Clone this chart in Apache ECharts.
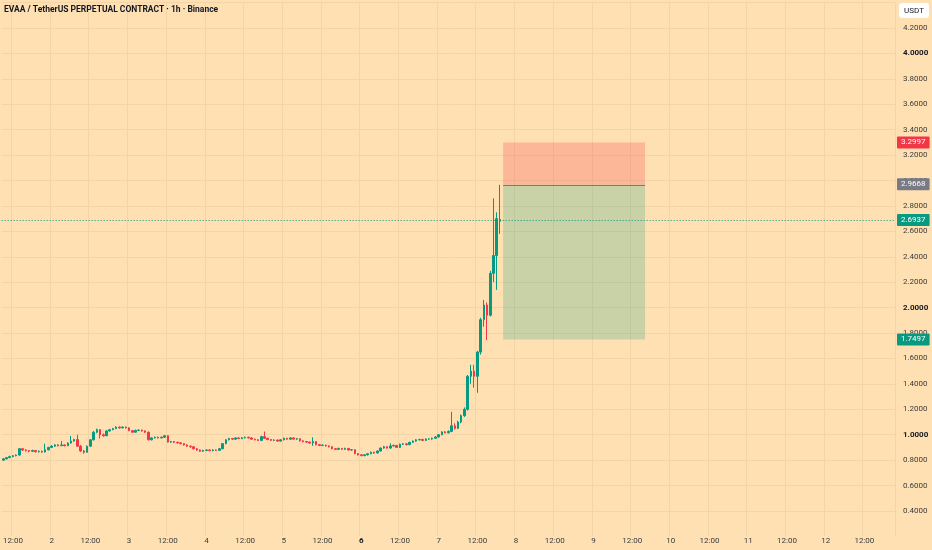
<!DOCTYPE html>
<html>
	<head>
		<meta charset="UTF-8">
		<title>EVAA / TetherUS</title>
		<style>
			html,body{margin:0;padding:0;background:#ffe0b2;}
			#charts{width:932px;height:550px;}
		</style>
	</head>
	<body>
		<div id="charts"></div>
	</body>
	<script src="https://cdn.jsdelivr.net/npm/echarts@6/dist/echarts.min.js"></script>
	<script>
		var mycharts = echarts.init(document.getElementById('charts'));

		// hourly slots from day 1 09:00, axis runs to day 12 evening
		var startHour = 9;
		var slotCount = 277;
		var categories = [];
		for (var k = 0; k < slotCount; k++) {
			var h = startHour + k;
			var d = 1 + Math.floor(h / 24);
			var hh = h % 24;
			categories.push(d + ' ' + (hh < 10 ? '0' + hh : hh) + ':00');
		}

		// candles: [open, close, low, high]
		var candles = [
			[0.800,0.810,0.795,0.815],[0.810,0.820,0.805,0.825],[0.820,0.828,0.815,0.835],[0.828,0.835,0.822,0.840],
			[0.835,0.840,0.830,0.845],[0.840,0.890,0.835,0.895],[0.890,0.880,0.872,0.895],[0.880,0.875,0.868,0.886],
			[0.875,0.870,0.862,0.880],[0.870,0.876,0.865,0.882],[0.876,0.866,0.860,0.880],[0.866,0.870,0.860,0.876],
			[0.870,0.864,0.858,0.874],[0.864,0.882,0.860,0.930],[0.882,0.900,0.876,0.905],[0.900,0.910,0.895,0.918],
			[0.910,0.920,0.905,0.926],[0.920,0.914,0.908,0.925],[0.914,0.920,0.910,0.950],[0.920,0.914,0.908,0.925],
			[0.914,0.935,0.910,0.940],[0.935,0.950,0.930,0.990],[0.950,0.962,0.945,0.968],[0.962,0.910,0.905,1.000],
			[0.910,0.872,0.865,0.920],[0.872,0.862,0.850,0.880],[0.862,0.910,0.858,0.915],[0.910,0.960,0.905,0.965],
			[0.960,1.020,0.955,1.028],[1.020,1.040,1.012,1.048],[1.040,1.000,0.970,1.045],[1.000,0.992,0.985,1.010],
			[0.992,1.030,0.988,1.035],[1.030,1.040,1.024,1.046],[1.040,1.048,1.035,1.054],[1.048,1.060,1.044,1.066],
			[1.060,1.054,1.048,1.064],[1.054,1.060,1.050,1.066],[1.060,1.054,1.048,1.064],[1.054,1.032,1.028,1.058],
			[1.032,1.020,1.014,1.036],[1.020,1.034,1.016,1.040],[1.034,1.036,1.028,1.042],[1.036,1.030,1.024,1.040],
			[1.030,1.020,1.014,1.034],[1.020,0.960,0.955,1.024],[0.960,0.975,0.955,0.980],[0.975,0.980,0.970,0.986],
			[0.980,0.975,0.970,0.985],[0.975,0.980,0.970,0.986],[0.980,0.992,0.975,0.998],[0.992,0.942,0.938,0.996],
			[0.942,0.946,0.936,0.952],[0.946,0.940,0.934,0.950],[0.940,0.936,0.930,0.946],[0.936,0.930,0.924,0.940],
			[0.930,0.920,0.914,0.934],[0.920,0.910,0.905,0.925],[0.910,0.905,0.898,0.915],[0.905,0.890,0.884,0.910],
			[0.890,0.880,0.874,0.895],[0.880,0.870,0.864,0.884],[0.870,0.876,0.864,0.882],[0.876,0.880,0.870,0.886],
			[0.880,0.875,0.870,0.885],[0.875,0.880,0.870,0.886],[0.880,0.877,0.872,0.884],[0.877,0.890,0.872,0.895],
			[0.890,0.930,0.886,0.935],[0.930,0.960,0.925,0.965],[0.960,0.970,0.955,0.976],[0.970,0.965,0.960,0.975],
			[0.965,0.975,0.960,0.980],[0.975,0.970,0.965,0.980],[0.970,0.976,0.965,0.982],[0.976,0.980,0.970,0.985],
			[0.980,0.975,0.970,0.984],[0.975,0.965,0.960,0.980],[0.965,0.960,0.955,0.970],[0.960,0.955,0.950,0.965],
			[0.955,0.985,0.950,0.992],[0.985,0.972,0.966,1.025],[0.972,0.962,0.958,0.976],[0.962,0.956,0.950,0.966],
			[0.956,0.958,0.950,0.964],[0.958,0.950,0.945,0.962],[0.950,0.960,0.946,0.965],[0.960,0.972,0.955,0.978],
			[0.972,0.965,0.960,0.976],[0.965,0.975,0.960,0.980],[0.975,0.966,0.960,0.980],[0.966,0.968,0.960,0.974],
			[0.968,0.952,0.946,0.972],[0.952,0.946,0.940,0.956],[0.946,0.942,0.936,0.950],[0.942,0.935,0.930,0.946],
			[0.935,0.946,0.912,0.980],[0.946,0.922,0.916,0.950],[0.922,0.916,0.910,0.926],[0.916,0.918,0.910,0.924],
			[0.918,0.912,0.906,0.922],[0.912,0.905,0.900,0.916],[0.905,0.890,0.885,0.908],[0.890,0.885,0.880,0.895],
			[0.885,0.892,0.880,0.898],[0.892,0.886,0.880,0.896],[0.886,0.892,0.880,0.898],[0.892,0.880,0.875,0.896],
			[0.880,0.882,0.874,0.888],[0.882,0.852,0.846,0.886],[0.852,0.842,0.836,0.856],[0.842,0.836,0.830,0.846],
			[0.836,0.842,0.830,0.848],[0.842,0.850,0.836,0.855],[0.850,0.862,0.846,0.868],[0.862,0.856,0.850,0.866],
			[0.856,0.872,0.852,0.878],[0.872,0.895,0.868,0.900],[0.895,0.905,0.890,0.912],[0.905,0.895,0.890,0.910],
			[0.895,0.912,0.890,0.932],[0.912,0.916,0.906,0.922],[0.916,0.900,0.895,0.920],[0.900,0.925,0.896,0.930],
			[0.925,0.928,0.920,0.934],[0.928,0.922,0.916,0.934],[0.922,0.940,0.918,0.945],[0.940,0.950,0.935,0.955],
			[0.950,0.960,0.945,0.966],[0.960,0.962,0.955,0.968],[0.962,0.955,0.950,0.968],[0.955,0.966,0.950,0.972],
			[0.966,0.966,0.960,0.972],[0.966,0.972,0.960,0.978],[0.972,0.982,0.966,0.990],[0.982,1.000,0.978,1.006],
			[1.000,1.022,0.995,1.028],[1.022,1.015,1.010,1.030],[1.015,1.026,1.010,1.034],[1.026,1.070,1.020,1.180],
			[1.070,1.050,1.040,1.090],[1.050,1.100,1.045,1.110],[1.100,1.150,1.090,1.160],[1.150,1.200,1.140,1.215],
			[1.200,1.460,1.190,1.470],[1.460,1.500,1.400,1.550],[1.500,1.460,1.370,1.550],[1.460,1.650,1.330,1.660],
			[1.650,1.905,1.630,1.920],[1.905,2.020,1.850,2.060],[2.020,1.940,1.745,2.040],[1.940,2.270,1.930,2.290],
			[2.270,2.410,2.200,2.860],[2.410,2.700,2.140,2.750],[2.680,2.6937,2.580,2.9668]
		];

		// long position tool
		var stopPrice = 3.2997;
		var entryPrice = 2.9668;
		var targetPrice = 1.7497;
		var lastPrice = 2.6937;
		var boxStart = 155; // slot index
		var boxEnd = 199;

		var yTicks = {min: 0.2, max: 4.4, interval: 0.2};
		var boldTicks = [1, 2, 4];

		var bg = '#ffe0b2';
		var gridColor = '#f3d4a6';
		var upColor = '#089981';
		var downColor = '#f23645';

		// price tag on the right scale
		function priceTag(color, price) {
			return {
				show: true,
				position: 'end',
				distance: 2,
				formatter: price.toFixed(4),
				backgroundColor: color,
				color: '#fff',
				fontSize: 8,
				fontFamily: 'Roboto',
				padding: [2, 4, 2, 4],
				borderRadius: 1
			};
		}
		function hiddenLine() {
			return {color: 'rgba(255,224,178,0)', width: 1, type: 'solid'};
		}

		option = {
			backgroundColor: bg,
			animation: false,
			title: {
				text: 'EVAA / TetherUS PERPETUAL CONTRACT · 1h · Binance',
				left: 4,
				top: 5,
				padding: 0,
				textStyle: {fontSize: 8.5, fontWeight: 'bold', color: '#131722', fontFamily: 'Roboto'}
			},
			grid: {left: 0, right: 37, top: 2.6, bottom: 13.6},
			xAxis: {
				type: 'category',
				data: categories,
				boundaryGap: true,
				axisLine: {show: true, lineStyle: {color: bg, width: 2}},
				axisTick: {show: false},
				axisLabel: {
					margin: 1,
					fontSize: 8,
					fontFamily: 'Roboto',
					color: '#3b3b3b',
					interval: function (i, v) {
						var t = v.split(' ')[1];
						return t === '00:00' || t === '12:00';
					},
					formatter: function (v) {
						var parts = v.split(' ');
						if (parts[1] === '12:00') return '12:00';
						return parts[0] === '6' ? '{b|6}' : parts[0];
					},
					rich: {b: {fontWeight: 'bold', fontSize: 8, color: '#131722'}}
				},
				splitLine: {
					show: true,
					interval: function (i, v) {
						var t = v.split(' ')[1];
						return t === '00:00' || t === '12:00';
					},
					lineStyle: {color: gridColor, width: 1}
				}
			},
			yAxis: {
				type: 'value',
				position: 'right',
				min: yTicks.min,
				max: yTicks.max,
				interval: yTicks.interval,
				axisLine: {show: false},
				axisTick: {show: false},
				axisLabel: {
					margin: 8,
					fontSize: 8,
					fontFamily: 'Roboto',
					color: '#3b3b3b',
					formatter: function (v) {
						if (v < 0.3 || v > 4.3) return '';
						for (var i = 0; i < boldTicks.length; i++) {
							if (Math.abs(v - boldTicks[i]) < 1e-6) return '{b|' + v.toFixed(4) + '}';
						}
						return v.toFixed(4);
					},
					rich: {b: {fontWeight: 'bold', fontSize: 8, color: '#131722'}}
				},
				splitLine: {lineStyle: {color: gridColor, width: 1}}
			},
			series: [{
				type: 'candlestick',
				data: candles,
				barWidth: 2,
				itemStyle: {
					color: upColor,
					color0: downColor,
					borderColor: upColor,
					borderColor0: downColor,
					borderWidth: 1
				},
				markArea: {
					silent: true,
					data: [
						[{xAxis: categories[boxStart], yAxis: stopPrice, itemStyle: {color: 'rgba(242,54,69,0.24)'}},
						 {xAxis: categories[boxEnd], yAxis: entryPrice}],
						[{xAxis: categories[boxStart], yAxis: entryPrice, itemStyle: {color: 'rgba(8,153,129,0.22)'}},
						 {xAxis: categories[boxEnd], yAxis: targetPrice}]
					]
				},
				markLine: {
					silent: true,
					symbol: ['none', 'none'],
					data: [
						{yAxis: stopPrice, lineStyle: hiddenLine(), label: priceTag(downColor, stopPrice)},
						{yAxis: entryPrice, lineStyle: hiddenLine(), label: priceTag('#787b86', entryPrice)},
						{yAxis: targetPrice, lineStyle: hiddenLine(), label: priceTag(upColor, targetPrice)},
						[{coord: [categories[boxStart], entryPrice], lineStyle: {color: '#787b86', type: 'solid', width: 1}, label: {show: false}},
						 {coord: [categories[boxEnd], entryPrice]}]
					]
				}
			}, {
				// last price line
				type: 'line',
				data: [],
				silent: true,
				markLine: {
					silent: true,
					symbol: ['none', 'none'],
					lineStyle: {color: upColor, type: [1, 2], width: 1},
					data: [{yAxis: lastPrice, label: priceTag(upColor, lastPrice)}]
				}
			}],
			graphic: [{
				type: 'group',
				right: 3,
				top: 3,
				children: [
					{type: 'rect', shape: {x: 0, y: 0, width: 30, height: 15, r: 3}, style: {fill: '#fff'}},
					{type: 'text', x: 15, y: 7.5, style: {text: 'USDT', fontSize: 8, fontFamily: 'Roboto', fill: '#131722', align: 'center', verticalAlign: 'middle'}}
				]
			}]
		};
		mycharts.setOption(option);
	</script>
</html>
